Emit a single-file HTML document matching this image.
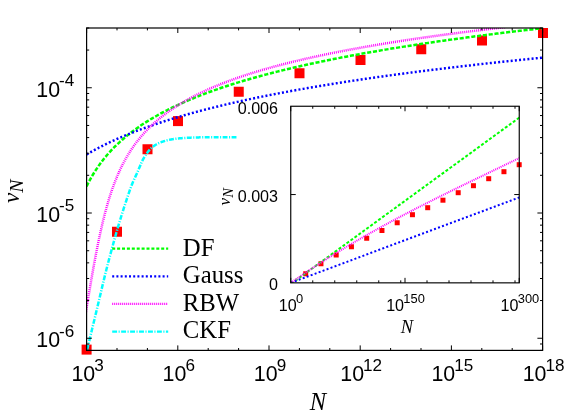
<!DOCTYPE html>
<html><head><meta charset="utf-8"><title>v_N vs N</title>
<style>
html,body{margin:0;padding:0;background:#fff;}
body{width:581px;height:416px;overflow:hidden;}
svg{display:block;will-change:transform;}
.sa{font-family:"Liberation Sans",sans-serif;fill:#000;}
.se{font-family:"Liberation Serif",serif;fill:#000;}
.it{font-style:italic;}
</style></head><body>
<svg width="581" height="416" viewBox="0 0 581 416">
<defs>
<clipPath id="cm"><rect x="86.60" y="28.00" width="456.50" height="323.40"/></clipPath>
<clipPath id="ci"><rect x="290.75" y="106.25" width="228.50" height="176.60"/></clipPath>
</defs>
<rect x="0" y="0" width="581" height="416" fill="#fff"/>
<rect x="81.60" y="344.60" width="10" height="10" fill="#ff0000"/>
<rect x="112.00" y="226.75" width="10" height="10" fill="#ff0000"/>
<rect x="142.50" y="144.25" width="10" height="10" fill="#ff0000"/>
<rect x="173.00" y="116.10" width="10" height="10" fill="#ff0000"/>
<rect x="233.75" y="86.75" width="10" height="10" fill="#ff0000"/>
<rect x="294.50" y="68.25" width="10" height="10" fill="#ff0000"/>
<rect x="355.50" y="55.00" width="10" height="10" fill="#ff0000"/>
<rect x="416.25" y="44.25" width="10" height="10" fill="#ff0000"/>
<rect x="477.00" y="35.50" width="10" height="10" fill="#ff0000"/>
<rect x="538.00" y="28.00" width="10" height="10" fill="#ff0000"/>
<g clip-path="url(#cm)">
<path d="M86.60 186.32 L88.13 183.26 L89.65 180.37 L91.18 177.61 L92.70 175.00 L94.23 172.50 L95.75 170.11 L97.28 167.82 L98.80 165.62 L100.33 163.51 L101.85 161.48 L103.38 159.52 L104.90 157.63 L106.43 155.81 L107.95 154.04 L109.48 152.33 L111.00 150.67 L112.53 149.06 L114.05 147.49 L115.58 145.97 L117.10 144.49 L118.63 143.05 L120.15 141.65 L121.68 140.28 L123.20 138.95 L124.73 137.65 L126.25 136.37 L127.78 135.13 L129.30 133.92 L130.83 132.73 L132.35 131.57 L133.88 130.43 L135.40 129.31 L136.93 128.22 L138.45 127.15 L139.98 126.10 L141.50 125.07 L143.03 124.06 L144.55 123.06 L146.08 122.09 L147.60 121.13 L149.13 120.19 L150.65 119.26 L152.18 118.35 L153.70 117.46 L155.23 116.58 L156.75 115.71 L158.28 114.86 L159.80 114.02 L161.33 113.19 L162.85 112.38 L164.38 111.57 L165.90 110.78 L167.43 110.00 L168.95 109.23 L170.48 108.48 L172.00 107.73 L173.53 106.99 L175.05 106.26 L176.58 105.55 L178.11 104.84 L179.63 104.14 L181.16 103.45 L182.68 102.77 L184.21 102.09 L185.73 101.43 L187.26 100.77 L188.78 100.12 L190.31 99.48 L191.83 98.84 L193.36 98.22 L194.88 97.60 L196.41 96.99 L197.93 96.38 L199.46 95.78 L200.98 95.19 L202.51 94.60 L204.03 94.02 L205.56 93.45 L207.08 92.88 L208.61 92.32 L210.13 91.76 L211.66 91.21 L213.18 90.67 L214.71 90.13 L216.23 89.59 L217.76 89.06 L219.28 88.54 L220.81 88.02 L222.33 87.50 L223.86 86.99 L225.38 86.49 L226.91 85.99 L228.43 85.49 L229.96 85.00 L231.48 84.52 L233.01 84.03 L234.53 83.56 L236.06 83.08 L237.58 82.61 L239.11 82.15 L240.63 81.68 L242.16 81.23 L243.68 80.77 L245.21 80.32 L246.73 79.88 L248.26 79.43 L249.78 78.99 L251.31 78.56 L252.83 78.12 L254.36 77.70 L255.88 77.27 L257.41 76.85 L258.93 76.43 L260.46 76.01 L261.98 75.60 L263.51 75.19 L265.03 74.78 L266.56 74.38 L268.08 73.98 L269.61 73.58 L271.14 73.19 L272.66 72.79 L274.19 72.41 L275.71 72.02 L277.24 71.64 L278.76 71.25 L280.29 70.88 L281.81 70.50 L283.34 70.13 L284.86 69.76 L286.39 69.39 L287.91 69.02 L289.44 68.66 L290.96 68.30 L292.49 67.94 L294.01 67.58 L295.54 67.23 L297.06 66.88 L298.59 66.53 L300.11 66.18 L301.64 65.84 L303.16 65.50 L304.69 65.16 L306.21 64.82 L307.74 64.48 L309.26 64.15 L310.79 63.81 L312.31 63.48 L313.84 63.16 L315.36 62.83 L316.89 62.51 L318.41 62.18 L319.94 61.86 L321.46 61.54 L322.99 61.23 L324.51 60.91 L326.04 60.60 L327.56 60.29 L329.09 59.98 L330.61 59.67 L332.14 59.37 L333.66 59.06 L335.19 58.76 L336.71 58.46 L338.24 58.16 L339.76 57.86 L341.29 57.57 L342.81 57.27 L344.34 56.98 L345.86 56.69 L347.39 56.40 L348.91 56.11 L350.44 55.82 L351.96 55.54 L353.49 55.25 L355.01 54.97 L356.54 54.69 L358.06 54.41 L359.59 54.13 L361.12 53.86 L362.64 53.58 L364.17 53.31 L365.69 53.04 L367.22 52.77 L368.74 52.50 L370.27 52.23 L371.79 51.96 L373.32 51.69 L374.84 51.43 L376.37 51.17 L377.89 50.91 L379.42 50.65 L380.94 50.39 L382.47 50.13 L383.99 49.87 L385.52 49.62 L387.04 49.36 L388.57 49.11 L390.09 48.86 L391.62 48.60 L393.14 48.35 L394.67 48.11 L396.19 47.86 L397.72 47.61 L399.24 47.37 L400.77 47.12 L402.29 46.88 L403.82 46.64 L405.34 46.40 L406.87 46.16 L408.39 45.92 L409.92 45.68 L411.44 45.44 L412.97 45.21 L414.49 44.97 L416.02 44.74 L417.54 44.51 L419.07 44.28 L420.59 44.04 L422.12 43.81 L423.64 43.59 L425.17 43.36 L426.69 43.13 L428.22 42.91 L429.74 42.68 L431.27 42.46 L432.79 42.23 L434.32 42.01 L435.84 41.79 L437.37 41.57 L438.89 41.35 L440.42 41.13 L441.94 40.91 L443.47 40.70 L444.99 40.48 L446.52 40.27 L448.04 40.05 L449.57 39.84 L451.09 39.62 L452.62 39.41 L454.15 39.20 L455.67 38.99 L457.20 38.78 L458.72 38.57 L460.25 38.37 L461.77 38.16 L463.30 37.95 L464.82 37.75 L466.35 37.54 L467.87 37.34 L469.40 37.14 L470.92 36.93 L472.45 36.73 L473.97 36.53 L475.50 36.33 L477.02 36.13 L478.55 35.93 L480.07 35.73 L481.60 35.54 L483.12 35.34 L484.65 35.14 L486.17 34.95 L487.70 34.76 L489.22 34.56 L490.75 34.37 L492.27 34.18 L493.80 33.98 L495.32 33.79 L496.85 33.60 L498.37 33.41 L499.90 33.22 L501.42 33.04 L502.95 32.85 L504.47 32.66 L506.00 32.47 L507.52 32.29 L509.05 32.10 L510.57 31.92 L512.10 31.74 L513.62 31.55 L515.15 31.37 L516.67 31.19 L518.20 31.01 L519.72 30.82 L521.25 30.64 L522.77 30.46 L524.30 30.29 L525.82 30.11 L527.35 29.93 L528.87 29.75 L530.40 29.58 L531.92 29.40 L533.45 29.22 L534.97 29.05 L536.50 28.87 L538.02 28.70 L539.55 28.53 L541.07 28.35 L542.60 28.18" fill="none" stroke="#00ff00" stroke-width="2.50" stroke-dasharray="4.1 1.75"/>
<path d="M86.60 154.48 L88.13 153.59 L89.65 152.71 L91.18 151.85 L92.70 151.00 L94.23 150.17 L95.75 149.35 L97.28 148.54 L98.80 147.74 L100.33 146.95 L101.85 146.18 L103.38 145.41 L104.90 144.66 L106.43 143.91 L107.95 143.18 L109.48 142.46 L111.00 141.74 L112.53 141.04 L114.05 140.34 L115.58 139.65 L117.10 138.97 L118.63 138.30 L120.15 137.64 L121.68 136.99 L123.20 136.34 L124.73 135.70 L126.25 135.07 L127.78 134.45 L129.30 133.83 L130.83 133.22 L132.35 132.62 L133.88 132.02 L135.40 131.43 L136.93 130.84 L138.45 130.27 L139.98 129.69 L141.50 129.13 L143.03 128.57 L144.55 128.01 L146.08 127.47 L147.60 126.92 L149.13 126.38 L150.65 125.85 L152.18 125.32 L153.70 124.80 L155.23 124.29 L156.75 123.77 L158.28 123.26 L159.80 122.76 L161.33 122.26 L162.85 121.77 L164.38 121.28 L165.90 120.80 L167.43 120.31 L168.95 119.84 L170.48 119.37 L172.00 118.90 L173.53 118.43 L175.05 117.97 L176.58 117.52 L178.11 117.06 L179.63 116.61 L181.16 116.17 L182.68 115.73 L184.21 115.29 L185.73 114.85 L187.26 114.42 L188.78 114.00 L190.31 113.57 L191.83 113.15 L193.36 112.73 L194.88 112.32 L196.41 111.90 L197.93 111.50 L199.46 111.09 L200.98 110.69 L202.51 110.29 L204.03 109.89 L205.56 109.50 L207.08 109.11 L208.61 108.72 L210.13 108.33 L211.66 107.95 L213.18 107.57 L214.71 107.19 L216.23 106.82 L217.76 106.45 L219.28 106.08 L220.81 105.71 L222.33 105.35 L223.86 104.98 L225.38 104.62 L226.91 104.27 L228.43 103.91 L229.96 103.56 L231.48 103.21 L233.01 102.86 L234.53 102.51 L236.06 102.17 L237.58 101.83 L239.11 101.49 L240.63 101.15 L242.16 100.81 L243.68 100.48 L245.21 100.15 L246.73 99.82 L248.26 99.49 L249.78 99.17 L251.31 98.84 L252.83 98.52 L254.36 98.20 L255.88 97.88 L257.41 97.57 L258.93 97.25 L260.46 96.94 L261.98 96.63 L263.51 96.32 L265.03 96.02 L266.56 95.71 L268.08 95.41 L269.61 95.10 L271.14 94.80 L272.66 94.51 L274.19 94.21 L275.71 93.91 L277.24 93.62 L278.76 93.33 L280.29 93.04 L281.81 92.75 L283.34 92.46 L284.86 92.17 L286.39 91.89 L287.91 91.61 L289.44 91.32 L290.96 91.04 L292.49 90.77 L294.01 90.49 L295.54 90.21 L297.06 89.94 L298.59 89.66 L300.11 89.39 L301.64 89.12 L303.16 88.85 L304.69 88.59 L306.21 88.32 L307.74 88.05 L309.26 87.79 L310.79 87.53 L312.31 87.27 L313.84 87.01 L315.36 86.75 L316.89 86.49 L318.41 86.23 L319.94 85.98 L321.46 85.72 L322.99 85.47 L324.51 85.22 L326.04 84.97 L327.56 84.72 L329.09 84.47 L330.61 84.22 L332.14 83.98 L333.66 83.73 L335.19 83.49 L336.71 83.25 L338.24 83.01 L339.76 82.76 L341.29 82.53 L342.81 82.29 L344.34 82.05 L345.86 81.81 L347.39 81.58 L348.91 81.34 L350.44 81.11 L351.96 80.88 L353.49 80.65 L355.01 80.42 L356.54 80.19 L358.06 79.96 L359.59 79.73 L361.12 79.50 L362.64 79.28 L364.17 79.05 L365.69 78.83 L367.22 78.61 L368.74 78.39 L370.27 78.16 L371.79 77.94 L373.32 77.73 L374.84 77.51 L376.37 77.29 L377.89 77.07 L379.42 76.86 L380.94 76.64 L382.47 76.43 L383.99 76.21 L385.52 76.00 L387.04 75.79 L388.57 75.58 L390.09 75.37 L391.62 75.16 L393.14 74.95 L394.67 74.75 L396.19 74.54 L397.72 74.33 L399.24 74.13 L400.77 73.92 L402.29 73.72 L403.82 73.52 L405.34 73.31 L406.87 73.11 L408.39 72.91 L409.92 72.71 L411.44 72.51 L412.97 72.32 L414.49 72.12 L416.02 71.92 L417.54 71.72 L419.07 71.53 L420.59 71.33 L422.12 71.14 L423.64 70.95 L425.17 70.75 L426.69 70.56 L428.22 70.37 L429.74 70.18 L431.27 69.99 L432.79 69.80 L434.32 69.61 L435.84 69.42 L437.37 69.24 L438.89 69.05 L440.42 68.86 L441.94 68.68 L443.47 68.49 L444.99 68.31 L446.52 68.12 L448.04 67.94 L449.57 67.76 L451.09 67.58 L452.62 67.40 L454.15 67.21 L455.67 67.03 L457.20 66.86 L458.72 66.68 L460.25 66.50 L461.77 66.32 L463.30 66.14 L464.82 65.97 L466.35 65.79 L467.87 65.62 L469.40 65.44 L470.92 65.27 L472.45 65.09 L473.97 64.92 L475.50 64.75 L477.02 64.57 L478.55 64.40 L480.07 64.23 L481.60 64.06 L483.12 63.89 L484.65 63.72 L486.17 63.55 L487.70 63.39 L489.22 63.22 L490.75 63.05 L492.27 62.88 L493.80 62.72 L495.32 62.55 L496.85 62.39 L498.37 62.22 L499.90 62.06 L501.42 61.89 L502.95 61.73 L504.47 61.57 L506.00 61.40 L507.52 61.24 L509.05 61.08 L510.57 60.92 L512.10 60.76 L513.62 60.60 L515.15 60.44 L516.67 60.28 L518.20 60.12 L519.72 59.97 L521.25 59.81 L522.77 59.65 L524.30 59.49 L525.82 59.34 L527.35 59.18 L528.87 59.03 L530.40 58.87 L531.92 58.72 L533.45 58.56 L534.97 58.41 L536.50 58.26 L538.02 58.10 L539.55 57.95 L541.07 57.80 L542.60 57.65" fill="none" stroke="#0000ff" stroke-width="2.45" stroke-dasharray="2 2.2"/>
<path d="M83.72 325.78 L83.85 325.00 L83.97 324.22 L84.09 323.44 L84.22 322.66 L84.34 321.89 L84.47 321.11 L84.59 320.33 L84.72 319.55 L84.84 318.77 L84.97 317.99 L85.09 317.21 L85.22 316.43 L85.35 315.65 L85.47 314.87 L85.60 314.09 L85.72 313.31 L85.85 312.53 L85.98 311.75 L86.10 310.97 L86.23 310.19 L86.36 309.41 L86.48 308.63 L86.61 307.85 L86.74 307.07 L86.86 306.29 L86.99 305.51 L87.12 304.73 L87.25 303.95 L87.37 303.17 L87.50 302.39 L87.63 301.61 L87.76 300.83 L87.89 300.05 L88.02 299.27 L88.15 298.49 L88.28 297.71 L88.40 296.93 L88.53 296.15 L88.66 295.37 L88.79 294.59 L88.92 293.81 L89.05 293.03 L89.19 292.25 L89.32 291.47 L89.45 290.69 L89.58 289.91 L89.71 289.13 L89.84 288.35 L89.97 287.57 L90.11 286.79 L90.24 286.01 L90.37 285.23 L90.51 284.45 L90.64 283.67 L90.77 282.89 L90.91 282.11 L91.04 281.33 L91.18 280.55 L91.31 279.77 L91.45 278.99 L91.58 278.21 L91.72 277.43 L91.85 276.65 L91.99 275.87 L92.13 275.09 L92.26 274.31 L92.40 273.53 L92.54 272.75 L92.68 271.97 L92.82 271.19 L92.96 270.41 L93.10 269.63 L93.24 268.86 L93.38 268.08 L93.52 267.30 L93.66 266.52 L93.80 265.74 L93.94 264.96 L94.08 264.18 L94.23 263.40 L94.37 262.62 L94.51 261.84 L94.66 261.06 L94.80 260.28 L94.95 259.50 L95.10 258.72 L95.24 257.94 L95.39 257.16 L95.54 256.38 L95.68 255.60 L95.83 254.82 L95.98 254.04 L96.13 253.26 L96.28 252.48 L96.43 251.70 L96.59 250.92 L96.74 250.14 L96.89 249.36 L97.05 248.58 L97.20 247.80 L97.36 247.02 L97.51 246.24 L97.67 245.46 L97.83 244.68 L97.98 243.90 L98.14 243.12 L98.30 242.34 L98.46 241.56 L98.62 240.78 L98.79 240.00 L98.95 239.22 L99.11 238.44 L99.28 237.66 L99.44 236.88 L99.61 236.10 L99.78 235.32 L99.95 234.54 L100.12 233.76 L100.29 232.98 L100.46 232.20 L100.63 231.42 L100.80 230.64 L100.98 229.86 L101.16 229.08 L101.33 228.30 L101.51 227.52 L101.69 226.74 L101.87 225.96 L102.05 225.18 L102.23 224.40 L102.42 223.62 L102.60 222.84 L102.79 222.06 L102.98 221.28 L103.17 220.50 L103.36 219.72 L103.55 218.94 L103.74 218.16 L103.94 217.38 L104.13 216.60 L104.33 215.83 L104.53 215.05 L104.73 214.27 L104.93 213.49 L105.14 212.71 L105.35 211.93 L105.55 211.15 L105.76 210.37 L105.97 209.59 L106.19 208.81 L106.40 208.03 L106.62 207.25 L106.84 206.47 L107.06 205.69 L107.28 204.91 L107.50 204.13 L107.73 203.35 L107.96 202.57 L108.19 201.79 L108.42 201.01 L108.65 200.23 L108.89 199.45 L109.13 198.67 L109.37 197.89 L109.62 197.11 L109.86 196.33 L110.11 195.55 L110.36 194.77 L110.62 193.99 L110.87 193.21 L111.13 192.43 L111.40 191.65 L111.66 190.87 L111.93 190.09 L112.20 189.31 L112.47 188.53 L112.75 187.75 L113.03 186.97 L113.31 186.19 L113.59 185.41 L113.88 184.63 L114.17 183.85 L114.47 183.07 L114.77 182.29 L115.07 181.51 L115.37 180.73 L115.68 179.95 L116.00 179.17 L116.31 178.39 L116.63 177.61 L116.96 176.83 L117.28 176.05 L117.62 175.27 L117.95 174.49 L118.29 173.71 L118.64 172.93 L118.98 172.15 L119.34 171.37 L119.69 170.59 L120.06 169.81 L120.42 169.03 L120.79 168.25 L121.17 167.47 L121.55 166.69 L121.93 165.91 L122.33 165.13 L122.72 164.35 L123.12 163.58 L123.53 162.80 L123.94 162.02 L124.36 161.24 L124.78 160.46 L125.21 159.68 L125.64 158.90 L126.08 158.12 L126.53 157.34 L126.98 156.56 L127.44 155.78 L127.91 155.00 L128.38 154.22 L128.86 153.44 L129.34 152.66 L129.83 151.88 L130.33 151.10 L130.84 150.32 L131.35 149.54 L131.87 148.76 L132.40 147.98 L132.94 147.20 L133.48 146.42 L134.03 145.64 L134.59 144.86 L135.16 144.08 L135.74 143.30 L136.32 142.52 L136.92 141.74 L137.52 140.96 L138.13 140.18 L138.75 139.40 L139.38 138.62 L140.02 137.84 L140.67 137.06 L141.33 136.28 L142.00 135.50 L142.68 134.72 L143.37 133.94 L144.07 133.16 L144.78 132.38 L145.51 131.60 L146.24 130.82 L146.98 130.04 L147.74 129.26 L148.51 128.48 L149.29 127.70 L150.08 126.92 L150.89 126.14 L151.71 125.36 L152.54 124.58 L153.38 123.80 L154.24 123.02 L155.11 122.24 L155.99 121.46 L156.89 120.68 L157.81 119.90 L158.73 119.12 L159.68 118.34 L160.64 117.56 L161.61 116.78 L162.60 116.00 L163.60 115.22 L164.63 114.44 L165.66 113.66 L166.72 112.88 L167.79 112.10 L168.88 111.32 L169.99 110.55 L171.12 109.77 L172.26 108.99 L173.42 108.21 L174.61 107.43 L175.81 106.65 L177.03 105.87 L178.27 105.09 L179.53 104.31 L180.82 103.53 L182.12 102.75 L183.45 101.97 L184.80 101.19 L186.17 100.41 L187.56 99.63 L188.98 98.85 L190.42 98.07 L191.88 97.29 L193.37 96.51 L194.89 95.73 L196.43 94.95 L197.99 94.17 L199.59 93.39 L201.20 92.61 L202.85 91.83 L204.52 91.05 L206.23 90.27 L207.96 89.49 L209.72 88.71 L211.51 87.93 L213.33 87.15 L215.18 86.37 L217.06 85.59 L218.98 84.81 L220.92 84.03 L222.90 83.25 L224.92 82.47 L226.97 81.69 L229.05 80.91 L231.17 80.13 L233.32 79.35 L235.52 78.57 L237.75 77.79 L240.01 77.01 L242.32 76.23 L244.67 75.45 L247.05 74.67 L249.48 73.89 L251.95 73.11 L254.46 72.33 L257.01 71.55 L259.61 70.77 L262.25 69.99 L264.94 69.21 L267.67 68.43 L270.46 67.65 L273.28 66.87 L276.16 66.09 L279.09 65.31 L282.07 64.53 L285.10 63.75 L288.18 62.97 L291.31 62.19 L294.50 61.41 L297.75 60.63 L301.05 59.85 L304.40 59.07 L307.82 58.29 L311.29 57.52 L314.83 56.74 L318.42 55.96 L322.08 55.18 L325.80 54.40 L329.59 53.62 L333.44 52.84 L337.36 52.06 L341.34 51.28 L345.40 50.50 L349.52 49.72 L353.72 48.94 L357.99 48.16 L362.33 47.38 L366.75 46.60 L371.24 45.82 L375.82 45.04 L380.47 44.26 L385.20 43.48 L390.02 42.70 L394.92 41.92 L399.90 41.14 L404.97 40.36 L410.13 39.58 L415.38 38.80 L420.72 38.02 L426.15 37.24 L431.68 36.46 L437.30 35.68 L443.02 34.90 L448.84 34.12 L454.77 33.34 L460.79 32.56 L466.92 31.78 L473.16 31.00 L479.50 30.22 L485.95 29.44 L492.52 28.66 L499.20 27.88 L506.00 27.10" fill="none" stroke="#ff00ff" stroke-width="2.50" stroke-dasharray="1.0 1.0"/>
<path d="M87.10 349.80 L87.60 347.73 L88.10 345.65 L88.61 343.57 L89.11 341.50 L89.61 339.42 L90.11 337.34 L90.61 335.26 L91.11 333.19 L91.62 331.11 L92.12 329.03 L92.62 326.95 L93.12 324.87 L93.62 322.78 L94.12 320.70 L94.63 318.62 L95.13 316.54 L95.63 314.45 L96.13 312.37 L96.63 310.28 L97.13 308.19 L97.64 306.09 L98.14 303.99 L98.64 301.87 L99.14 299.75 L99.64 297.63 L100.14 295.50 L100.65 293.38 L101.15 291.25 L101.65 289.13 L102.15 287.02 L102.65 284.91 L103.15 282.82 L103.66 280.73 L104.16 278.66 L104.66 276.60 L105.16 274.56 L105.66 272.54 L106.16 270.54 L106.67 268.56 L107.17 266.59 L107.67 264.64 L108.17 262.70 L108.67 260.78 L109.17 258.87 L109.68 256.97 L110.18 255.08 L110.68 253.21 L111.18 251.34 L111.68 249.49 L112.18 247.65 L112.69 245.83 L113.19 244.00 L113.69 242.19 L114.19 240.39 L114.69 238.59 L115.19 236.81 L115.70 235.04 L116.20 233.27 L116.70 231.52 L117.20 229.79 L117.70 228.06 L118.20 226.35 L118.71 224.65 L119.21 222.97 L119.71 221.31 L120.21 219.66 L120.71 218.02 L121.21 216.40 L121.72 214.78 L122.22 213.18 L122.72 211.60 L123.22 210.02 L123.72 208.46 L124.22 206.91 L124.73 205.37 L125.23 203.84 L125.73 202.32 L126.23 200.81 L126.73 199.29 L127.23 197.78 L127.74 196.27 L128.24 194.77 L128.74 193.28 L129.24 191.82 L129.74 190.38 L130.24 188.97 L130.75 187.60 L131.25 186.26 L131.75 184.98 L132.25 183.74 L132.75 182.54 L133.25 181.37 L133.76 180.23 L134.26 179.12 L134.76 178.02 L135.26 176.93 L135.76 175.85 L136.26 174.76 L136.77 173.66 L137.27 172.55 L137.77 171.41 L138.27 170.24 L138.77 169.05 L139.27 167.85 L139.78 166.64 L140.28 165.45 L140.78 164.27 L141.28 163.11 L141.78 161.99 L142.28 160.91 L142.79 159.88 L143.29 158.91 L143.79 158.02 L144.29 157.19 L144.79 156.40 L145.29 155.62 L145.80 154.86 L146.30 154.12 L146.80 153.40 L147.30 152.70 L147.80 152.03 L148.30 151.38 L148.81 150.75 L149.31 150.15 L149.81 149.58 L150.31 149.04 L150.81 148.53 L151.31 148.05 L151.82 147.60 L152.32 147.19 L152.82 146.80 L153.32 146.42 L153.82 146.06 L154.32 145.71 L154.83 145.38 L155.33 145.06 L155.83 144.75 L156.33 144.46 L156.83 144.17 L157.33 143.90 L157.84 143.64 L158.34 143.39 L158.84 143.16 L159.34 142.93 L159.84 142.71 L160.34 142.50 L160.85 142.30 L161.35 142.11 L161.85 141.92 L162.35 141.74 L162.85 141.56 L163.35 141.39 L163.86 141.23 L164.36 141.07 L164.86 140.91 L165.36 140.76 L165.86 140.62 L166.36 140.49 L166.87 140.36 L167.37 140.23 L167.87 140.12 L168.37 140.01 L168.87 139.91 L169.37 139.81 L169.88 139.71 L170.38 139.62 L170.88 139.52 L171.38 139.43 L171.88 139.35 L172.38 139.26 L172.89 139.18 L173.39 139.10 L173.89 139.02 L174.39 138.94 L174.89 138.87 L175.39 138.80 L175.90 138.73 L176.40 138.67 L176.90 138.61 L177.40 138.55 L177.90 138.50 L178.40 138.44 L178.91 138.40 L179.41 138.35 L179.91 138.31 L180.41 138.27 L180.91 138.23 L181.41 138.19 L181.92 138.15 L182.42 138.12 L182.92 138.08 L183.42 138.05 L183.92 138.02 L184.42 137.98 L184.93 137.95 L185.43 137.92 L185.93 137.89 L186.43 137.86 L186.93 137.84 L187.43 137.81 L187.94 137.78 L188.44 137.76 L188.94 137.73 L189.44 137.71 L189.94 137.69 L190.44 137.66 L190.95 137.64 L191.45 137.62 L191.95 137.60 L192.45 137.58 L192.95 137.57 L193.45 137.55 L193.96 137.53 L194.46 137.52 L194.96 137.50 L195.46 137.49 L195.96 137.47 L196.46 137.46 L196.97 137.44 L197.47 137.43 L197.97 137.41 L198.47 137.40 L198.97 137.39 L199.47 137.37 L199.98 137.36 L200.48 137.34 L200.98 137.33 L201.48 137.32 L201.98 137.31 L202.48 137.30 L202.99 137.28 L203.49 137.27 L203.99 137.26 L204.49 137.25 L204.99 137.25 L205.49 137.24 L206.00 137.23 L206.50 137.22 L207.00 137.22 L207.50 137.21 L208.00 137.21 L208.50 137.20 L209.01 137.20 L209.51 137.20 L210.01 137.20 L210.51 137.20 L211.01 137.20 L211.51 137.20 L212.02 137.20 L212.52 137.20 L213.02 137.20 L213.52 137.20 L214.02 137.20 L214.52 137.20 L215.03 137.20 L215.53 137.20 L216.03 137.20 L216.53 137.20 L217.03 137.20 L217.53 137.20 L218.04 137.20 L218.54 137.20 L219.04 137.20 L219.54 137.20 L220.04 137.20 L220.54 137.20 L221.05 137.20 L221.55 137.20 L222.05 137.20 L222.55 137.20 L223.05 137.20 L223.55 137.20 L224.06 137.20 L224.56 137.20 L225.06 137.20 L225.56 137.20 L226.06 137.20 L226.56 137.20 L227.07 137.20 L227.57 137.20 L228.07 137.20 L228.57 137.20 L229.07 137.20 L229.57 137.20 L230.08 137.20 L230.58 137.20 L231.08 137.20 L231.58 137.20 L232.08 137.20 L232.58 137.20 L233.09 137.20 L233.59 137.20 L234.09 137.20 L234.59 137.20 L235.09 137.20 L235.59 137.20 L236.10 137.20 L236.60 137.20 L237.10 137.20" fill="none" stroke="#00ffff" stroke-width="2.50" stroke-dasharray="4.9 1.5 1.1 1.45"/>
</g>
<path d="M112.20 248.70 H168.20" fill="none" stroke="#00ff00" stroke-width="2.30" stroke-dasharray="3 1.9"/>
<path d="M112.20 276.30 H168.20" fill="none" stroke="#0000ff" stroke-width="2.30" stroke-dasharray="2 2.2"/>
<path d="M112.20 303.90 H168.20" fill="none" stroke="#ff00ff" stroke-width="2.30" stroke-dasharray="1.0 1.0"/>
<path d="M112.20 331.70 H168.20" fill="none" stroke="#00ffff" stroke-width="2.30" stroke-dasharray="4.9 1.5 1.1 1.45"/>
<text x="182.8" y="255.90" class="se" font-size="24.75">DF</text>
<text x="182.8" y="282.90" class="se" font-size="24.75">Gauss</text>
<text x="182.8" y="310.70" class="se" font-size="24.75">RBW</text>
<text x="182.8" y="337.60" class="se" font-size="24.75">CKF</text>
<path d="M86.60 350.40 v-5.00 M86.60 28.00 v5.00 M117.00 350.40 v-2.40 M117.00 28.00 v2.40 M147.40 350.40 v-2.40 M147.40 28.00 v2.40 M177.80 350.40 v-5.00 M177.80 28.00 v5.00 M208.20 350.40 v-2.40 M208.20 28.00 v2.40 M238.60 350.40 v-2.40 M238.60 28.00 v2.40 M269.00 350.40 v-5.00 M269.00 28.00 v5.00 M299.40 350.40 v-2.40 M299.40 28.00 v2.40 M329.80 350.40 v-2.40 M329.80 28.00 v2.40 M360.20 350.40 v-5.00 M360.20 28.00 v5.00 M390.60 350.40 v-2.40 M390.60 28.00 v2.40 M421.00 350.40 v-2.40 M421.00 28.00 v2.40 M451.40 350.40 v-5.00 M451.40 28.00 v5.00 M481.80 350.40 v-2.40 M481.80 28.00 v2.40 M512.20 350.40 v-2.40 M512.20 28.00 v2.40 M542.60 350.40 v-5.00 M542.60 28.00 v5.00 M86.60 350.40 h2.60 M542.60 350.40 h-2.60 M86.60 343.99 h2.60 M542.60 343.99 h-2.60 M86.60 338.26 h5.20 M542.60 338.26 h-5.20 M86.60 300.56 h2.60 M542.60 300.56 h-2.60 M86.60 278.50 h2.60 M542.60 278.50 h-2.60 M86.60 262.85 h2.60 M542.60 262.85 h-2.60 M86.60 250.72 h2.60 M542.60 250.72 h-2.60 M86.60 240.80 h2.60 M542.60 240.80 h-2.60 M86.60 232.41 h2.60 M542.60 232.41 h-2.60 M86.60 225.15 h2.60 M542.60 225.15 h-2.60 M86.60 218.74 h2.60 M542.60 218.74 h-2.60 M86.60 213.01 h5.20 M542.60 213.01 h-5.20 M86.60 175.31 h2.60 M542.60 175.31 h-2.60 M86.60 153.25 h2.60 M542.60 153.25 h-2.60 M86.60 137.60 h2.60 M542.60 137.60 h-2.60 M86.60 125.46 h2.60 M542.60 125.46 h-2.60 M86.60 115.55 h2.60 M542.60 115.55 h-2.60 M86.60 107.16 h2.60 M542.60 107.16 h-2.60 M86.60 99.90 h2.60 M542.60 99.90 h-2.60 M86.60 93.49 h2.60 M542.60 93.49 h-2.60 M86.60 87.76 h5.20 M542.60 87.76 h-5.20 M86.60 50.06 h2.60 M542.60 50.06 h-2.60 M86.60 28.00 h2.60 M542.60 28.00 h-2.60" stroke="#000" stroke-width="1" fill="none"/>
<rect x="86.60" y="28.00" width="456.00" height="322.40" fill="none" stroke="#000" stroke-width="1.2"/>
<text x="87.60" y="381.25" class="sa" font-size="21.40" text-anchor="middle">10<tspan font-size="17.12" dx="-0.96" dy="-10.49">3</tspan></text>
<text x="178.80" y="381.25" class="sa" font-size="21.40" text-anchor="middle">10<tspan font-size="17.12" dx="-0.96" dy="-10.49">6</tspan></text>
<text x="270.00" y="381.25" class="sa" font-size="21.40" text-anchor="middle">10<tspan font-size="17.12" dx="-0.96" dy="-10.49">9</tspan></text>
<text x="361.20" y="381.25" class="sa" font-size="21.40" text-anchor="middle">10<tspan font-size="17.12" dx="-0.96" dy="-10.49">12</tspan></text>
<text x="452.40" y="381.25" class="sa" font-size="21.40" text-anchor="middle">10<tspan font-size="17.12" dx="-0.96" dy="-10.49">15</tspan></text>
<text x="543.60" y="381.25" class="sa" font-size="21.40" text-anchor="middle">10<tspan font-size="17.12" dx="-0.96" dy="-10.49">18</tspan></text>
<text x="74.30" y="96.70" class="sa" font-size="21.40" text-anchor="end">10<tspan font-size="17.12" dx="-0.96" dy="-10.49">-4</tspan></text>
<text x="74.30" y="221.60" class="sa" font-size="21.40" text-anchor="end">10<tspan font-size="17.12" dx="-0.96" dy="-10.49">-5</tspan></text>
<text x="74.30" y="347.20" class="sa" font-size="21.40" text-anchor="end">10<tspan font-size="17.12" dx="-0.96" dy="-10.49">-6</tspan></text>
<text x="318" y="410.4" class="se it" font-size="24.5" text-anchor="middle">N</text>
<g transform="translate(19.0,203) rotate(-90)"><text x="0" y="0" class="se it" font-size="23">v<tspan font-size="19.8" dy="4.3">N</tspan></text></g>
<rect x="303.20" y="271.25" width="5" height="5" fill="#ff0000"/>
<rect x="318.45" y="261.25" width="5" height="5" fill="#ff0000"/>
<rect x="333.70" y="252.50" width="5" height="5" fill="#ff0000"/>
<rect x="348.95" y="244.25" width="5" height="5" fill="#ff0000"/>
<rect x="364.20" y="235.75" width="5" height="5" fill="#ff0000"/>
<rect x="379.45" y="228.00" width="5" height="5" fill="#ff0000"/>
<rect x="394.70" y="220.25" width="5" height="5" fill="#ff0000"/>
<rect x="409.95" y="212.20" width="5" height="5" fill="#ff0000"/>
<rect x="425.20" y="205.20" width="5" height="5" fill="#ff0000"/>
<rect x="440.45" y="197.70" width="5" height="5" fill="#ff0000"/>
<rect x="455.70" y="190.20" width="5" height="5" fill="#ff0000"/>
<rect x="470.95" y="183.20" width="5" height="5" fill="#ff0000"/>
<rect x="486.20" y="176.20" width="5" height="5" fill="#ff0000"/>
<rect x="501.45" y="169.20" width="5" height="5" fill="#ff0000"/>
<rect x="516.70" y="162.20" width="5" height="5" fill="#ff0000"/>
<g clip-path="url(#ci)">
<path d="M290.75 282.85 L291.90 282.85 L293.05 282.36 L294.19 281.52 L295.34 280.69 L296.49 279.85 L297.64 279.02 L298.79 278.18 L299.94 277.34 L301.08 276.51 L302.23 275.67 L303.38 274.84 L304.53 274.00 L305.68 273.16 L306.83 272.33 L307.97 271.49 L309.12 270.65 L310.27 269.82 L311.42 268.98 L312.57 268.15 L313.71 267.31 L314.86 266.47 L316.01 265.64 L317.16 264.80 L318.31 263.97 L319.46 263.13 L320.60 262.29 L321.75 261.46 L322.90 260.62 L324.05 259.78 L325.20 258.95 L326.35 258.11 L327.49 257.28 L328.64 256.44 L329.79 255.60 L330.94 254.77 L332.09 253.93 L333.23 253.10 L334.38 252.26 L335.53 251.42 L336.68 250.59 L337.83 249.75 L338.98 248.91 L340.12 248.08 L341.27 247.24 L342.42 246.41 L343.57 245.57 L344.72 244.73 L345.87 243.90 L347.01 243.06 L348.16 242.23 L349.31 241.39 L350.46 240.55 L351.61 239.72 L352.76 238.88 L353.90 238.04 L355.05 237.21 L356.20 236.37 L357.35 235.54 L358.50 234.70 L359.64 233.86 L360.79 233.03 L361.94 232.19 L363.09 231.36 L364.24 230.52 L365.39 229.68 L366.53 228.85 L367.68 228.01 L368.83 227.17 L369.98 226.34 L371.13 225.50 L372.28 224.67 L373.42 223.83 L374.57 222.99 L375.72 222.16 L376.87 221.32 L378.02 220.49 L379.16 219.65 L380.31 218.81 L381.46 217.98 L382.61 217.14 L383.76 216.30 L384.91 215.47 L386.05 214.63 L387.20 213.80 L388.35 212.96 L389.50 212.12 L390.65 211.29 L391.80 210.45 L392.94 209.62 L394.09 208.78 L395.24 207.94 L396.39 207.11 L397.54 206.27 L398.68 205.43 L399.83 204.60 L400.98 203.76 L402.13 202.93 L403.28 202.09 L404.43 201.25 L405.57 200.42 L406.72 199.58 L407.87 198.74 L409.02 197.91 L410.17 197.07 L411.32 196.24 L412.46 195.40 L413.61 194.56 L414.76 193.73 L415.91 192.89 L417.06 192.06 L418.20 191.22 L419.35 190.38 L420.50 189.55 L421.65 188.71 L422.80 187.87 L423.95 187.04 L425.09 186.20 L426.24 185.37 L427.39 184.53 L428.54 183.69 L429.69 182.86 L430.84 182.02 L431.98 181.19 L433.13 180.35 L434.28 179.51 L435.43 178.68 L436.58 177.84 L437.72 177.00 L438.87 176.17 L440.02 175.33 L441.17 174.50 L442.32 173.66 L443.47 172.82 L444.61 171.99 L445.76 171.15 L446.91 170.32 L448.06 169.48 L449.21 168.64 L450.36 167.81 L451.50 166.97 L452.65 166.13 L453.80 165.30 L454.95 164.46 L456.10 163.63 L457.24 162.79 L458.39 161.95 L459.54 161.12 L460.69 160.28 L461.84 159.45 L462.99 158.61 L464.13 157.77 L465.28 156.94 L466.43 156.10 L467.58 155.26 L468.73 154.43 L469.88 153.59 L471.02 152.76 L472.17 151.92 L473.32 151.08 L474.47 150.25 L475.62 149.41 L476.77 148.58 L477.91 147.74 L479.06 146.90 L480.21 146.07 L481.36 145.23 L482.51 144.39 L483.65 143.56 L484.80 142.72 L485.95 141.89 L487.10 141.05 L488.25 140.21 L489.40 139.38 L490.54 138.54 L491.69 137.71 L492.84 136.87 L493.99 136.03 L495.14 135.20 L496.29 134.36 L497.43 133.52 L498.58 132.69 L499.73 131.85 L500.88 131.02 L502.03 130.18 L503.17 129.34 L504.32 128.51 L505.47 127.67 L506.62 126.84 L507.77 126.00 L508.92 125.16 L510.06 124.33 L511.21 123.49 L512.36 122.65 L513.51 121.82 L514.66 120.98 L515.81 120.15 L516.95 119.31 L518.10 118.47 L519.25 117.64" fill="none" stroke="#00ff00" stroke-width="2.00" stroke-dasharray="3 1.9"/>
<path d="M290.75 282.85 L291.90 282.42 L293.05 281.99 L294.19 281.56 L295.34 281.13 L296.49 280.70 L297.64 280.28 L298.79 279.85 L299.94 279.42 L301.08 278.99 L302.23 278.56 L303.38 278.13 L304.53 277.70 L305.68 277.27 L306.83 276.84 L307.97 276.41 L309.12 275.98 L310.27 275.56 L311.42 275.13 L312.57 274.70 L313.71 274.27 L314.86 273.84 L316.01 273.41 L317.16 272.98 L318.31 272.55 L319.46 272.12 L320.60 271.69 L321.75 271.26 L322.90 270.83 L324.05 270.41 L325.20 269.98 L326.35 269.55 L327.49 269.12 L328.64 268.69 L329.79 268.26 L330.94 267.83 L332.09 267.40 L333.23 266.97 L334.38 266.54 L335.53 266.11 L336.68 265.69 L337.83 265.26 L338.98 264.83 L340.12 264.40 L341.27 263.97 L342.42 263.54 L343.57 263.11 L344.72 262.68 L345.87 262.25 L347.01 261.82 L348.16 261.39 L349.31 260.97 L350.46 260.54 L351.61 260.11 L352.76 259.68 L353.90 259.25 L355.05 258.82 L356.20 258.39 L357.35 257.96 L358.50 257.53 L359.64 257.10 L360.79 256.67 L361.94 256.24 L363.09 255.82 L364.24 255.39 L365.39 254.96 L366.53 254.53 L367.68 254.10 L368.83 253.67 L369.98 253.24 L371.13 252.81 L372.28 252.38 L373.42 251.95 L374.57 251.52 L375.72 251.10 L376.87 250.67 L378.02 250.24 L379.16 249.81 L380.31 249.38 L381.46 248.95 L382.61 248.52 L383.76 248.09 L384.91 247.66 L386.05 247.23 L387.20 246.80 L388.35 246.38 L389.50 245.95 L390.65 245.52 L391.80 245.09 L392.94 244.66 L394.09 244.23 L395.24 243.80 L396.39 243.37 L397.54 242.94 L398.68 242.51 L399.83 242.08 L400.98 241.66 L402.13 241.23 L403.28 240.80 L404.43 240.37 L405.57 239.94 L406.72 239.51 L407.87 239.08 L409.02 238.65 L410.17 238.22 L411.32 237.79 L412.46 237.36 L413.61 236.93 L414.76 236.51 L415.91 236.08 L417.06 235.65 L418.20 235.22 L419.35 234.79 L420.50 234.36 L421.65 233.93 L422.80 233.50 L423.95 233.07 L425.09 232.64 L426.24 232.21 L427.39 231.79 L428.54 231.36 L429.69 230.93 L430.84 230.50 L431.98 230.07 L433.13 229.64 L434.28 229.21 L435.43 228.78 L436.58 228.35 L437.72 227.92 L438.87 227.49 L440.02 227.07 L441.17 226.64 L442.32 226.21 L443.47 225.78 L444.61 225.35 L445.76 224.92 L446.91 224.49 L448.06 224.06 L449.21 223.63 L450.36 223.20 L451.50 222.77 L452.65 222.34 L453.80 221.92 L454.95 221.49 L456.10 221.06 L457.24 220.63 L458.39 220.20 L459.54 219.77 L460.69 219.34 L461.84 218.91 L462.99 218.48 L464.13 218.05 L465.28 217.62 L466.43 217.20 L467.58 216.77 L468.73 216.34 L469.88 215.91 L471.02 215.48 L472.17 215.05 L473.32 214.62 L474.47 214.19 L475.62 213.76 L476.77 213.33 L477.91 212.90 L479.06 212.48 L480.21 212.05 L481.36 211.62 L482.51 211.19 L483.65 210.76 L484.80 210.33 L485.95 209.90 L487.10 209.47 L488.25 209.04 L489.40 208.61 L490.54 208.18 L491.69 207.76 L492.84 207.33 L493.99 206.90 L495.14 206.47 L496.29 206.04 L497.43 205.61 L498.58 205.18 L499.73 204.75 L500.88 204.32 L502.03 203.89 L503.17 203.46 L504.32 203.03 L505.47 202.61 L506.62 202.18 L507.77 201.75 L508.92 201.32 L510.06 200.89 L511.21 200.46 L512.36 200.03 L513.51 199.60 L514.66 199.17 L515.81 198.74 L516.95 198.31 L518.10 197.89 L519.25 197.46" fill="none" stroke="#0000ff" stroke-width="2.00" stroke-dasharray="2 2.25"/>
<path d="M290.75 282.85 L291.90 282.05 L293.05 281.24 L294.19 280.44 L295.34 279.65 L296.49 278.85 L297.64 278.06 L298.79 277.28 L299.94 276.49 L301.08 275.71 L302.23 274.93 L303.38 274.15 L304.53 273.38 L305.68 272.61 L306.83 271.84 L307.97 271.07 L309.12 270.31 L310.27 269.55 L311.42 268.79 L312.57 268.03 L313.71 267.28 L314.86 266.53 L316.01 265.78 L317.16 265.04 L318.31 264.29 L319.46 263.55 L320.60 262.82 L321.75 262.08 L322.90 261.35 L324.05 260.62 L325.20 259.89 L326.35 259.16 L327.49 258.44 L328.64 257.72 L329.79 257.00 L330.94 256.29 L332.09 255.57 L333.23 254.86 L334.38 254.15 L335.53 253.44 L336.68 252.74 L337.83 252.04 L338.98 251.34 L340.12 250.64 L341.27 249.94 L342.42 249.25 L343.57 248.56 L344.72 247.87 L345.87 247.18 L347.01 246.50 L348.16 245.81 L349.31 245.13 L350.46 244.45 L351.61 243.78 L352.76 243.10 L353.90 242.43 L355.05 241.76 L356.20 241.09 L357.35 240.42 L358.50 239.76 L359.64 239.09 L360.79 238.43 L361.94 237.77 L363.09 237.12 L364.24 236.46 L365.39 235.81 L366.53 235.15 L367.68 234.50 L368.83 233.86 L369.98 233.21 L371.13 232.56 L372.28 231.92 L373.42 231.28 L374.57 230.64 L375.72 230.00 L376.87 229.37 L378.02 228.73 L379.16 228.10 L380.31 227.47 L381.46 226.84 L382.61 226.21 L383.76 225.58 L384.91 224.96 L386.05 224.34 L387.20 223.71 L388.35 223.09 L389.50 222.47 L390.65 221.86 L391.80 221.24 L392.94 220.63 L394.09 220.01 L395.24 219.40 L396.39 218.79 L397.54 218.18 L398.68 217.57 L399.83 216.97 L400.98 216.36 L402.13 215.76 L403.28 215.16 L404.43 214.56 L405.57 213.96 L406.72 213.36 L407.87 212.76 L409.02 212.16 L410.17 211.57 L411.32 210.98 L412.46 210.38 L413.61 209.79 L414.76 209.20 L415.91 208.61 L417.06 208.02 L418.20 207.44 L419.35 206.85 L420.50 206.27 L421.65 205.68 L422.80 205.10 L423.95 204.52 L425.09 203.94 L426.24 203.36 L427.39 202.78 L428.54 202.20 L429.69 201.62 L430.84 201.05 L431.98 200.47 L433.13 199.90 L434.28 199.32 L435.43 198.75 L436.58 198.18 L437.72 197.61 L438.87 197.04 L440.02 196.47 L441.17 195.90 L442.32 195.33 L443.47 194.76 L444.61 194.20 L445.76 193.63 L446.91 193.06 L448.06 192.50 L449.21 191.94 L450.36 191.37 L451.50 190.81 L452.65 190.25 L453.80 189.68 L454.95 189.12 L456.10 188.56 L457.24 188.00 L458.39 187.44 L459.54 186.88 L460.69 186.32 L461.84 185.77 L462.99 185.21 L464.13 184.65 L465.28 184.09 L466.43 183.54 L467.58 182.98 L468.73 182.42 L469.88 181.87 L471.02 181.31 L472.17 180.76 L473.32 180.20 L474.47 179.65 L475.62 179.09 L476.77 178.54 L477.91 177.99 L479.06 177.43 L480.21 176.88 L481.36 176.33 L482.51 175.77 L483.65 175.22 L484.80 174.67 L485.95 174.11 L487.10 173.56 L488.25 173.01 L489.40 172.46 L490.54 171.90 L491.69 171.35 L492.84 170.80 L493.99 170.25 L495.14 169.69 L496.29 169.14 L497.43 168.59 L498.58 168.04 L499.73 167.48 L500.88 166.93 L502.03 166.38 L503.17 165.82 L504.32 165.27 L505.47 164.72 L506.62 164.16 L507.77 163.61 L508.92 163.05 L510.06 162.50 L511.21 161.95 L512.36 161.39 L513.51 160.83 L514.66 160.28 L515.81 159.72 L516.95 159.17 L518.10 158.61 L519.25 158.05" fill="none" stroke="#ff00ff" stroke-width="2.00" stroke-dasharray="1 1"/>
</g>
<path d="M290.75 282.85 v-5 M290.75 106.25 v5 M405.00 282.85 v-5 M405.00 106.25 v5 M519.25 282.85 v-5 M519.25 106.25 v5 M312.75 282.85 v-2.5 M312.75 106.25 v2.5 M334.75 282.85 v-2.5 M334.75 106.25 v2.5 M356.75 282.85 v-2.5 M356.75 106.25 v2.5 M378.75 282.85 v-2.5 M378.75 106.25 v2.5 M400.75 282.85 v-2.5 M400.75 106.25 v2.5 M427.00 282.85 v-2.5 M427.00 106.25 v2.5 M449.00 282.85 v-2.5 M449.00 106.25 v2.5 M471.00 282.85 v-2.5 M471.00 106.25 v2.5 M493.00 282.85 v-2.5 M493.00 106.25 v2.5 M515.00 282.85 v-2.5 M515.00 106.25 v2.5 M290.75 194.55 h5 M519.25 194.55 h-5" stroke="#000" stroke-width="1" fill="none"/>
<rect x="290.75" y="106.25" width="228.50" height="176.60" fill="none" stroke="#000" stroke-width="1.15"/>
<text x="291.05" y="311.25" class="sa" font-size="16.10" text-anchor="middle">10<tspan font-size="12.88" dx="-0.72" dy="-7.89">0</tspan></text>
<text x="405.50" y="311.25" class="sa" font-size="16.10" text-anchor="middle">10<tspan font-size="12.88" dx="-0.72" dy="-7.89">150</tspan></text>
<text x="519.95" y="311.25" class="sa" font-size="16.10" text-anchor="middle">10<tspan font-size="12.88" dx="-0.72" dy="-7.89">300</tspan></text>
<text x="278" y="113.75" class="sa" font-size="16.10" text-anchor="end">0.006</text>
<text x="278" y="201.6" class="sa" font-size="16.10" text-anchor="end">0.003</text>
<text x="278" y="289.6" class="sa" font-size="16.10" text-anchor="end">0</text>
<text x="407" y="332.5" class="se it" font-size="18.5" text-anchor="middle">N</text>
<g transform="translate(229.8,205.4) rotate(-90)"><text x="0" y="0" class="se it" font-size="17.2">v<tspan font-size="14.6" dy="3.2">N</tspan></text></g>
</svg>
</body></html>
